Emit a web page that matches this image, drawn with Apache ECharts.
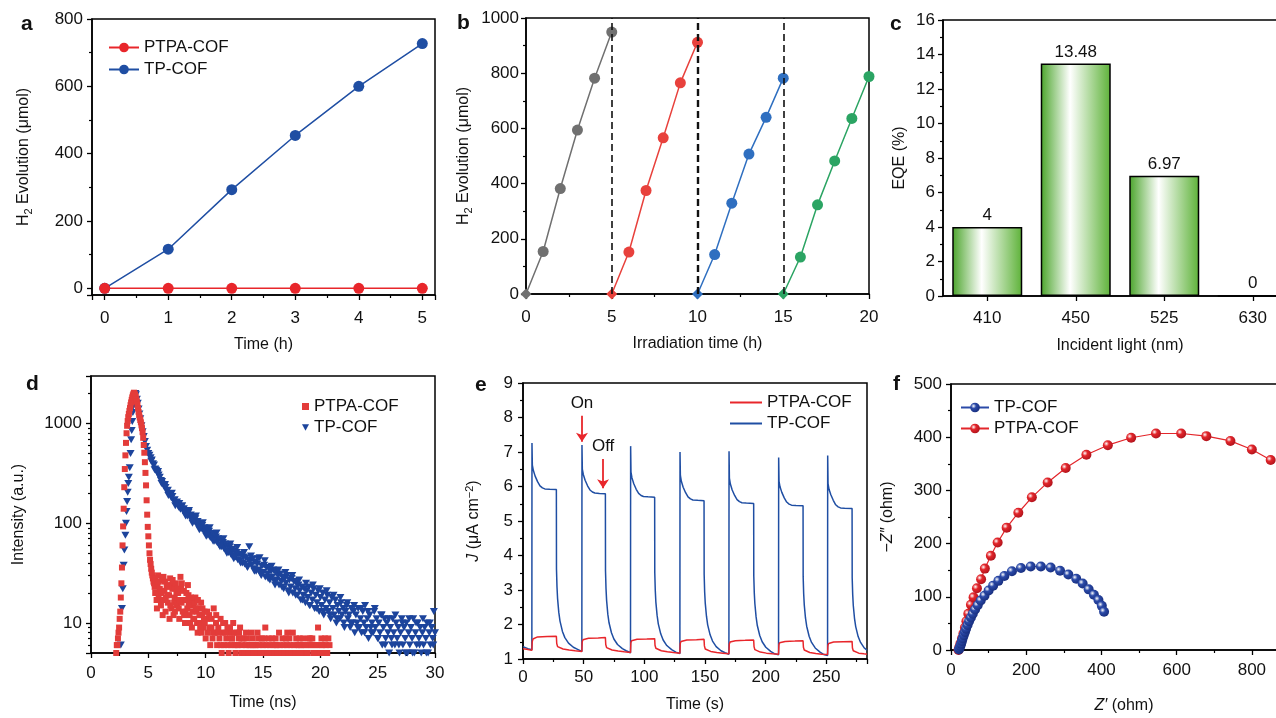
<!DOCTYPE html>
<html>
<head>
<meta charset="utf-8">
<script src="https://cdn.jsdelivr.net/npm/echarts@6/dist/echarts.min.js"></script>
<style>
html,body{margin:0;padding:0;background:#fff;}
#chart{width:1276px;height:718px;}
</style>
</head>
<body>
<div id="chart"></div>
<script>
// ---------- data ----------
// panel a
const aTime = [0, 1, 2, 3, 4, 5];
const aPTPA = [0, 0, 0, 0, 0, 0];
const aTP = [0, 116, 293, 454, 600, 727];
// panel b (four cycles)
const bRun1Time = [0, 1, 2, 3, 4, 5];
const bRun1 = [0, 154, 382, 594, 782, 949];
const bRun2Time = [5, 6, 7, 8, 9, 10];
const bRun2 = [0, 152, 375, 566, 765, 912];
const bRun3Time = [10, 11, 12, 13, 14, 15];
const bRun3 = [0, 143, 329, 507, 640, 782];
const bRun4Time = [15, 16, 17, 18, 19, 20];
const bRun4 = [0, 134, 323, 482, 636, 788];
const bCycleEnds = [5, 10, 15];
// panel c
const cWavelength = ['410', '450', '525', '630'];
const cEQE = [4, 13.48, 6.97, 0];
// panel d  [time (ns), counts]
const dPTPA = [
[2.2,5],[2.25,6],[2.3,6],[2.35,7],[2.4,8],[2.45,9],[2.5,11],[2.55,13],[2.6,18],[2.65,25],
[2.7,36],[2.75,60],[2.8,93],[2.85,140],[2.9,230],[2.95,350],[3.0,480],[3.05,640],[3.1,800],[3.15,950],
[3.2,1060],[3.25,1160],[3.3,1250],[3.35,1340],[3.4,1430],[3.45,1530],[3.5,1630],[3.55,1730],[3.6,1830],[3.65,1920],
[3.7,1990],[3.75,2040],[3.8,2000],[3.85,1940],[3.9,1860],[3.95,1760],[4.0,1660],[4.05,1550],[4.1,1430],[4.15,1310],
[4.2,1220],[4.25,1150],[4.3,1090],[4.35,1030],[4.4,970],[4.45,900],[4.5,820],[4.55,720],[4.6,610],[4.65,510],
[4.7,410],[4.75,320],[4.8,240],[4.85,170],[4.9,122],[4.95,92],[5.0,74],[5.05,60],[5.1,50],[5.15,43],
[5.2,39],[5.25,35],[5.3,32],[5.35,30],[5.4,28],[5.45,26],[5.5,25],[5.55,23],[5.6,20],[5.65,24],
[5.7,20],[5.75,14],[5.8,25],[5.85,30],[5.9,18],[6.0,22],[6.05,17],[6.1,15],[6.2,27],[6.25,12],
[6.3,17],[6.4,21],[6.45,26],[6.5,13],[6.6,24],[6.65,19],[6.7,16],[6.8,19],[6.85,11],[6.9,28],
[7.0,14],[7.05,24],[7.1,22],[7.2,12],[7.25,16],[7.3,18],[7.4,25],[7.45,20],[7.5,15],[7.6,20],
[7.65,14],[7.7,11],[7.8,29],[7.85,22],[7.9,16],[8.0,13],[8.05,17],[8.1,21],[8.2,10],[8.25,13],
[8.3,17],[8.4,14],[8.45,24],[8.5,19],[8.6,12],[8.65,10],[8.7,16],[8.8,9],[8.85,13],[8.9,15],
[9.0,11],[9.05,16],[9.1,18],[9.2,13],[9.25,10],[9.3,8],[9.4,14],[9.45,12],[9.5,10],[9.6,16],
[9.65,8],[9.7,12],[9.8,9],[9.85,11],[9.9,13],[10.0,7],[10.1,11],[10.2,8],[10.3,12],[10.4,6],
[10.5,9],[10.6,7],[10.7,14],[10.8,8],[10.9,10],[11.0,6],[11.1,9],[11.2,7],[11.3,11],[11.4,5],
[11.5,8],[11.6,6],[11.7,10],[11.8,7],[11.9,9],[12.0,5],[12.1,8],[12.2,6],[12.3,7],[12.4,10],
[12.5,6],[12.6,5],[12.7,8],[12.8,6],[12.9,7],[13.0,9],[13.1,5],[13.2,6],[13.3,7],[13.4,5],
[13.5,6],[13.6,7],[13.7,5],[13.8,6],[13.9,6],[14.0,8],[14.1,7],[14.2,5],[14.3,6],[14.4,6],
[14.5,5],[14.6,7],[14.7,6],[14.8,5],[14.9,7],[15.0,6],[15.1,5],[15.2,9],[15.3,6],[15.4,5],
[15.5,7],[15.6,6],[15.7,5],[15.8,7],[15.9,6],[16.0,5],[16.1,7],[16.2,6],[16.3,5],[16.4,8],
[16.5,6],[16.6,5],[16.7,7],[16.8,6],[16.9,5],[17.0,7],[17.1,6],[17.2,5],[17.3,7],[17.4,6],
[17.5,5],[17.6,8],[17.7,6],[17.8,5],[17.9,7],[18.0,6],[18.1,5],[18.2,7],[18.3,6],[18.4,5],
[18.5,7],[18.6,6],[18.7,6],[18.8,5],[18.9,5],[19.0,7],[19.1,6],[19.2,6],[19.3,7],[19.4,5],
[19.5,5],[19.6,6],[19.7,6],[19.8,9],[19.9,5],[20.0,5],[20.1,7],[20.2,6],[20.3,5],[20.4,7],
[20.5,6],[20.6,5],[20.7,7],[20.8,6],
[5.62,28],[5.72,17],[5.92,26],[6.12,20],[6.32,29],[6.52,18],[6.72,23],[6.92,15],[7.12,27],[7.32,13],
[7.52,22],[7.72,17],[7.92,25],[8.12,12],[8.32,20],[8.52,15],[8.72,18],[8.92,11],[9.12,14],[9.32,17],
[9.52,9],[9.72,14],[9.92,10],[10.12,13],[10.32,9],[10.52,11],[10.72,8],[10.92,12],[11.12,8],[11.32,6],
[11.52,10],[11.72,8],[11.92,6],[12.12,9],[12.32,7],[12.52,8],[12.72,6],[12.92,8],[13.12,7],[13.52,8],
[14.12,6],[14.52,8],[15.12,7],[16.12,6],[17.12,8],[18.12,6],[19.12,7],[20.12,6]
];
const dTP = [
[2.6,6],[2.7,14],[2.77,22],[2.85,38],[2.91,54],[3.0,76],[3.05,100],[3.1,131],[3.15,165],[3.2,205],
[3.25,250],[3.3,290],[3.38,360],[3.45,500],[3.5,690],[3.55,850],[3.6,1050],[3.65,1290],[3.7,1500],[3.75,1700],
[3.8,1870],[3.87,2000],[3.92,1950],[4.0,1750],[4.08,1600],[4.15,1400],[4.22,1250],[4.3,1120],[4.4,950],[4.5,830],
[4.6,740],[4.7,660],[4.8,590],[4.9,540],[5.0,500],
[5.1,480],[5.2,455],[5.3,430],[5.4,395],[5.5,385],[5.6,350],[5.7,340],[5.8,315],[5.9,305],[6.0,290],
[6.1,268],[6.2,262],[6.3,240],[6.4,236],[6.5,228],[6.6,210],[6.7,214],[6.8,195],[6.9,198],[7.0,180],
[7.1,186],[7.2,168],[7.3,172],[7.4,155],[7.5,163],[7.6,150],[7.7,158],[7.8,138],[7.9,146],[8.0,135],
[8.1,140],[8.2,124],[8.3,132],[8.4,118],[8.5,128],[8.6,116],[8.7,121],[8.8,108],[8.9,114],[9.0,104],
[9.1,111],[9.2,98],[9.3,104],[9.4,92],[9.5,99],[9.6,88],[9.7,95],[9.8,84],[9.9,90],[10.0,80],
[10.1,88],[10.2,76],[10.3,83],[10.4,72],[10.5,79],[10.6,70],[10.7,76],[10.8,66],[10.9,73],[11.0,64],
[11.1,70],[11.2,60],[11.3,67],[11.4,58],[11.5,64],[11.6,56],[11.7,62],[11.8,53],[11.9,59],[12.0,51],
[12.1,58],[12.2,49],[12.3,55],[12.4,47],[12.5,53],[12.6,46],[12.7,51],[12.8,43],[12.9,49],[13.0,42],
[13.1,48],[13.2,40],[13.3,46],[13.4,39],[13.5,45],[13.6,37],[13.7,43],[13.8,58],[13.9,42],[14.0,38],
[14.1,44],[14.2,35],[14.3,41],[14.4,33],[14.5,39],[14.6,34],[14.7,45],[14.8,31],[14.9,37],[15.0,32],
[15.1,38],[15.2,29],[15.3,36],[15.4,31],[15.5,35],[15.6,27],[15.7,33],[15.8,29],[15.9,34],[16.0,26],
[16.1,32],[16.2,27],[16.3,30],[16.4,24],[16.5,31],[16.6,26],[16.7,29],[16.8,22],[16.9,28],[17.0,25],
[17.1,30],[17.2,21],[17.3,27],[17.4,23],[17.5,28],[17.6,20],[17.7,26],[17.8,22],[17.9,25],[18.0,19],
[18.1,24],[18.2,21],[18.3,17],[18.4,23],[18.5,19],[18.6,22],[18.7,16],[18.8,21],[18.9,18],[19.0,23],
[19.1,15],[19.2,20],[19.3,17],[19.4,22],[19.5,14],[19.6,19],[19.7,16],[19.8,21],[19.9,13],[20.0,18],
[20.1,15],[20.2,20],[20.3,12],[20.4,17],[20.5,14],[20.6,19],[20.7,13],[20.8,16],[20.9,11],[21.0,18],
[21.1,14],[21.2,12],[21.3,17],[21.4,10],[21.5,15],[21.6,13],[21.7,11],[21.8,16],[21.9,12],[22.0,14],
[22.1,9],[22.2,13],[22.3,15],[22.4,11],[22.5,12],[22.6,9],[22.7,14],[22.8,10],[22.9,13],[23.0,8],
[23.1,12],[23.2,10],[23.3,14],[23.4,9],[23.5,11],[23.6,8],[23.7,13],[23.8,10],[23.9,15],[24.0,9],
[24.1,11],[24.2,7],[24.3,12],[24.4,9],[24.5,10],[24.6,8],[24.7,13],[24.8,9],[24.9,11],[25.0,7],
[25.1,10],[25.2,8],[25.3,12],[25.4,6],[25.5,9],[25.6,11],[25.7,7],[25.8,10],[25.9,8],[26.0,5],
[26.1,9],[26.2,7],[26.3,11],[26.4,8],[26.5,6],[26.6,10],[26.7,7],[26.8,9],[26.9,5],[27.0,8],
[27.1,11],[27.2,6],[27.3,9],[27.4,7],[27.5,10],[27.6,5],[27.7,8],[27.8,6],[27.9,9],[28.0,7],
[28.1,11],[28.2,5],[28.3,8],[28.4,6],[28.5,10],[28.6,7],[28.7,9],[28.8,5],[28.9,8],[29.0,6],
[29.1,9],[29.2,7],[29.3,10],[29.4,5],[29.5,8],[29.6,6],[29.7,9],[29.8,7],[29.9,13],[30.0,8],
[5.25,420],[5.55,345],[5.85,330],[6.15,250],[6.45,245],[6.75,190],[7.05,200],[7.35,150],[7.65,145],[7.95,150],
[8.25,118],[8.55,134],[8.85,100],[9.15,118],[9.45,86],[9.75,101],[10.05,74],[10.35,90],[10.65,66],[10.95,80],
[11.25,58],[11.55,70],[11.85,50],[12.15,62],[12.45,44],[12.75,57],[13.05,40],[13.35,51],[13.65,36],[13.95,47],
[14.25,33],[14.55,44],[14.85,30],[15.15,42],[15.45,28],[15.75,37],[16.05,24],[16.35,34],[16.65,23],[16.95,32],
[17.25,20],[17.55,30],[17.85,19],[18.15,27],[18.45,17],[18.75,25],[19.05,15],[19.35,24],[19.65,14],[19.95,22],
[20.25,13],[20.55,21],[20.85,12],[21.15,19],[21.45,11],[21.75,18],[22.05,10],[22.35,16],[22.65,10],[22.95,15],
[23.25,9],[23.55,14],[23.85,8],[24.15,13],[24.45,8],[24.75,14],[25.05,7],[25.35,12],[25.65,6],[25.95,11],
[26.25,6],[26.55,12],[26.85,6],[27.15,10],[27.45,5],[27.75,11],[28.05,5],[28.35,10],[28.65,6],[28.95,11],
[29.25,5],[29.55,10],[29.85,6]
];
// panel e  [time (s), J]
const ePTPA = [
[0,1.3],[3,1.28],[7.3,1.25],[7.6,1.5],[8.2,1.58],[9.5,1.62],[12,1.64],[20,1.65],[27.5,1.66],[27.8,1.45],[28.5,1.36],[30,1.32],[33,1.29],[38,1.26],[43,1.24],[48.5,1.22],
[48.8,1.5],[49.4,1.56],[50.7,1.59],[54,1.6],[62,1.61],[67.9,1.62],[68.2,1.42],[68.9,1.33],[70.4,1.29],[73.4,1.26],[78.4,1.23],[83.4,1.21],[88.6,1.19],
[88.9,1.47],[89.5,1.53],[90.8,1.56],[94,1.57],[102,1.58],[108.5,1.59],[108.8,1.4],[109.5,1.31],[111,1.27],[114,1.24],[119,1.21],[124,1.19],[129.3,1.17],
[129.6,1.45],[130.2,1.51],[131.5,1.54],[135,1.55],[143,1.56],[149.2,1.57],[149.5,1.38],[150.2,1.29],[151.7,1.25],[154.7,1.22],[159.7,1.19],[164.7,1.17],[169.7,1.15],
[170,1.43],[170.6,1.49],[171.9,1.52],[175,1.53],[183,1.54],[190.1,1.55],[190.4,1.36],[191.1,1.27],[192.6,1.23],[195.6,1.2],[200.6,1.17],[205.6,1.15],[210.6,1.14],
[210.9,1.41],[211.5,1.47],[212.8,1.5],[216,1.51],[224,1.52],[230.8,1.53],[231.1,1.34],[231.8,1.26],[233.3,1.22],[236.3,1.19],[241.3,1.16],[246.3,1.14],[251,1.13],
[251.3,1.39],[251.9,1.45],[253.2,1.48],[256,1.49],[264,1.5],[271.2,1.51],[271.5,1.32],[272.2,1.24],[273.7,1.2],[276.7,1.17],[281,1.15],[283.5,1.14]
];
const eTP = [
[0,1.36],[2,1.33],[4,1.3],[7.3,1.27],
[7.4,7.26],[7.7,6.62],[8.5,6.47],[10,6.3],[12,6.14],[14,6.02],[16,5.96],[18,5.93],[22,5.92],[27.5,5.91],
[27.6,3.6],[28,3.1],[28.5,2.75],[29.5,2.35],[30.5,2.1],[32.5,1.8],[34.5,1.62],[37.5,1.46],[41.5,1.34],[45,1.28],[48.5,1.22],
[48.6,7.2],[48.9,6.5],[49.7,6.35],[51.2,6.18],[53.2,6.02],[55.2,5.9],[57.2,5.84],[59.2,5.81],[63,5.8],[67.9,5.79],
[68,3.55],[68.4,3.05],[68.9,2.7],[69.9,2.3],[70.9,2.05],[72.9,1.76],[74.9,1.58],[77.9,1.42],[81.9,1.3],[85,1.24],[88.6,1.18],
[88.7,7.17],[89,6.42],[89.8,6.25],[91.3,6.08],[93.3,5.92],[95.3,5.8],[97.3,5.74],[99.3,5.71],[103,5.7],[108.5,5.69],
[108.6,3.5],[109,3.0],[109.5,2.65],[110.5,2.27],[111.5,2.02],[113.5,1.73],[115.5,1.55],[118.5,1.39],[122.5,1.27],[126,1.2],[129.3,1.16],
[129.4,7.0],[129.7,6.32],[130.5,6.15],[132,5.98],[134,5.82],[136,5.7],[138,5.64],[140,5.61],[144,5.6],[149.2,5.59],
[149.3,3.45],[149.7,2.95],[150.2,2.62],[151.2,2.24],[152.2,1.99],[154.2,1.7],[156.2,1.52],[159.2,1.36],[163.2,1.24],[166.5,1.18],[169.7,1.14],
[169.8,7.02],[170.1,6.24],[170.9,6.07],[172.4,5.9],[174.4,5.74],[176.4,5.62],[178.4,5.56],[180.4,5.53],[184,5.52],[190.1,5.51],
[190.2,3.4],[190.6,2.92],[191.1,2.6],[192.1,2.22],[193.1,1.97],[195.1,1.68],[197.1,1.5],[200.1,1.34],[204.1,1.22],[207.5,1.15],[210.6,1.12],
[210.7,6.84],[211,6.15],[211.8,5.99],[213.3,5.83],[215.3,5.67],[217.3,5.55],[219.3,5.49],[221.3,5.46],[225,5.45],[230.8,5.44],
[230.9,3.38],[231.3,2.9],[231.8,2.57],[232.8,2.19],[233.8,1.95],[235.8,1.66],[237.8,1.48],[240.8,1.32],[244.8,1.2],[248,1.13],[251,1.1],
[251.1,6.9],[251.4,6.08],[252.2,5.92],[253.7,5.76],[255.7,5.6],[257.7,5.47],[259.7,5.41],[261.7,5.38],[265,5.37],[271.2,5.36],
[271.3,3.35],[271.7,2.88],[272.2,2.55],[273.2,2.18],[274.2,1.94],[276.2,1.65],[278.2,1.48],[281.2,1.32],[283.5,1.26]
];
const eOnArrow = [[48.6, 8.05], [48.6, 7.3]];
const eOffArrow = [[66, 6.8], [66, 5.95]];
// panel f  [Z', -Z'']
const fTP = [
[21,1],[23,4],[25,8],[27,12],[29,17],[31,22],[34,28],[37,34],[40,40],[44,47],
[48,54],[53,61],[58,68],[64,76],[71,84],[79,93],[89,102],[100,112],[112,121],[126,130],
[142,139],[162,148],[186,154],[212,157],[239,157],[265,155],[290,149],[312,142],[333,134],[350,125],
[366,114],[380,104],[392,94],[401,83],[407,72]
];
const fPTPA = [
[20,0],[22,5],[25,12],[29,21],[33,31],[37,42],[41,54],[46,68],[53,85],[60,99],
[69,116],[80,133],[90,153],[106,177],[124,202],[148,230],[179,258],[215,287],[257,315],[305,342],
[360,367],[417,385],[479,399],[545,407],[612,407],[679,402],[743,393],[800,377],[850,357]
];

// ---------- styling ----------
const FONT = 'Liberation Sans, Arial, Helvetica, sans-serif';
const RED = '#e8262b', BLUE = '#1f4ea3';
const bColors = ['#707070', '#e8413c', '#2f6fc0', '#2ba463'];

function ball(c, dark) {
  return {type: 'radial', x: 0.35, y: 0.35, r: 0.75,
    colorStops: [{offset: 0, color: '#ffffff'}, {offset: 0.35, color: c}, {offset: 1, color: dark}]};
}

const gridPos = [
  {left: 92, top: 19, width: 343, height: 276},
  {left: 526, top: 18, width: 343, height: 276},
  {left: 943, top: 20, width: 354, height: 276},
  {left: 91, top: 376, width: 344, height: 277},
  {left: 523, top: 383, width: 344, height: 276},
  {left: 951, top: 384, width: 346, height: 266}
];
const grids = gridPos.map(g => Object.assign({
  show: true, borderColor: '#000', borderWidth: 1.5, backgroundColor: 'transparent',
  containLabel: false, outerBoundsMode: 'none'
}, g));

function axisBase(extra) {
  const base = {
    axisLine: {show: true, onZero: false, lineStyle: {color: '#000', width: 1.5}},
    axisTick: {show: true, inside: false, length: 5, lineStyle: {color: '#000', width: 1.3}},
    minorTick: {show: true, splitNumber: 2, length: 3, lineStyle: {color: '#000', width: 1.2}},
    splitLine: {show: false},
    minorSplitLine: {show: false},
    axisLabel: {color: '#111', fontSize: 17, fontFamily: FONT},
    nameLocation: 'middle',
    nameTextStyle: {color: '#111', fontSize: 16, fontFamily: FONT},
    silent: true
  };
  const out = Object.assign({}, base, extra);
  if (extra.axisLabel) out.axisLabel = Object.assign({}, base.axisLabel, extra.axisLabel);
  if (extra.nameTextStyle) out.nameTextStyle = Object.assign({}, base.nameTextStyle, extra.nameTextStyle);
  if (extra.minorTick) out.minorTick = Object.assign({}, base.minorTick, extra.minorTick);
  if (extra.axisTick) out.axisTick = Object.assign({}, base.axisTick, extra.axisTick);
  return out;
}
const keepMultiple = (step) => (v) => (v >= 0 && Math.abs(v / step - Math.round(v / step)) < 1e-6) ? String(Math.round(v * 100) / 100) : '';

const subRich = {
  n: {fontSize: 16, fontFamily: FONT, color: '#111', lineHeight: 20},
  s: {fontSize: 11, fontFamily: FONT, color: '#111', padding: [9, 0, 0, 0], lineHeight: 11, verticalAlign: 'bottom'},
  p: {fontSize: 11, fontFamily: FONT, color: '#111', padding: [0, 0, 8, 0], lineHeight: 11, verticalAlign: 'top'},
  i: {fontSize: 16, fontFamily: FONT, color: '#111', fontStyle: 'italic', lineHeight: 20}
};

const xAxes = [
  axisBase({type: 'value', gridIndex: 0, min: -0.2, max: 5.2, name: 'Time (h)', nameGap: 42,
    axisLabel: {margin: 15, formatter: keepMultiple(1)}}),
  axisBase({type: 'value', gridIndex: 1, min: 0, max: 20, interval: 5, name: 'Irradiation time (h)', nameGap: 42,
    axisLabel: {margin: 15}}),
  axisBase({type: 'category', gridIndex: 2, data: cWavelength, name: 'Incident light (nm)', nameGap: 42,
    axisTick: {alignWithLabel: true}, minorTick: {show: false}, axisLabel: {margin: 14}}),
  axisBase({type: 'value', gridIndex: 3, min: 0, max: 30, interval: 5, name: 'Time (ns)', nameGap: 42,
    axisLabel: {margin: 12}}),
  axisBase({type: 'value', gridIndex: 4, min: 0, max: 283.5, interval: 50, name: 'Time (s)', nameGap: 38,
    axisLabel: {margin: 10, formatter: keepMultiple(50)}}),
  axisBase({type: 'value', gridIndex: 5, min: 0, max: 920, interval: 200, name: '{i|Z′}{n| (ohm)}', nameGap: 46,
    nameTextStyle: {rich: subRich}, axisLabel: {margin: 12, formatter: keepMultiple(200)}})
];
const yAxes = [
  axisBase({type: 'value', gridIndex: 0, min: -20, max: 800, name: '{n|H}{s|2}{n| Evolution (μmol)}', nameGap: 58,
    nameTextStyle: {rich: subRich}, axisLabel: {margin: 9, formatter: keepMultiple(200)}}),
  axisBase({type: 'value', gridIndex: 1, min: 0, max: 1000, interval: 200, name: '{n|H}{s|2}{n| Evolution (μmol)}', nameGap: 52,
    nameTextStyle: {rich: subRich}, axisLabel: {margin: 7, formatter: (v) => String(v)}}),
  axisBase({type: 'value', gridIndex: 2, min: 0, max: 16, interval: 2, name: 'EQE (%)', nameGap: 35,
    axisLabel: {margin: 8}}),
  axisBase({type: 'log', logBase: 10, gridIndex: 3, min: 5, max: 3000, name: 'Intensity (a.u.)', nameGap: 64,
    minorTick: {show: true, splitNumber: 9},
    axisLabel: {margin: 9, formatter: (v) => { const r = Math.round(v); return (r === 10 || r === 100 || r === 1000) ? String(r) : ''; }}}),
  axisBase({type: 'value', gridIndex: 4, min: 1, max: 9, interval: 1, name: '{i|J}{n| (μA cm}{p|−2}{n|)}', nameGap: 39,
    nameTextStyle: {rich: subRich}, axisLabel: {margin: 10}}),
  axisBase({type: 'value', gridIndex: 5, min: 0, max: 500, interval: 100, name: '{n|−}{i|Z″}{n| (ohm)}', nameGap: 53,
    nameTextStyle: {rich: subRich}, axisLabel: {margin: 9}})
];

const zip = (xs, ys) => xs.map((x, i) => [x, ys[i]]);
const bRuns = [[bRun1Time, bRun1], [bRun2Time, bRun2], [bRun3Time, bRun3], [bRun4Time, bRun4]];

const series = [];
// a
series.push({name: 'a|TP-COF', type: 'line', xAxisIndex: 0, yAxisIndex: 0, data: zip(aTime, aTP),
  symbol: 'circle', symbolSize: 11, itemStyle: {color: BLUE}, lineStyle: {color: BLUE, width: 1.5}, clip: false});
series.push({name: 'a|PTPA-COF', type: 'line', xAxisIndex: 0, yAxisIndex: 0, data: zip(aTime, aPTPA),
  symbol: 'circle', symbolSize: 11, itemStyle: {color: RED}, lineStyle: {color: RED, width: 1.5}, clip: false});
// b
bRuns.forEach((run, k) => {
  const pts = zip(run[0], run[1]).map((p, i) => i === 0 ? {value: p, symbol: 'diamond', symbolSize: 11} : {value: p});
  series.push({name: 'b|run' + (k + 1), type: 'line', xAxisIndex: 1, yAxisIndex: 1, data: pts,
    symbol: 'circle', symbolSize: 11, itemStyle: {color: bColors[k]}, lineStyle: {color: bColors[k], width: 1.5}, clip: false, z: 3});
});
series.push({name: 'b|ends', type: 'line', xAxisIndex: 1, yAxisIndex: 1, data: [], z: 2,
  markLine: {silent: true, symbol: ['none', 'none'], label: {show: false}, animation: false,
    data: bCycleEnds.map((x, i) => ({xAxis: x, lineStyle: {color: '#111', type: [7, 4], width: i === 1 ? 2.4 : 1.6}}))}});
// c
series.push({name: 'c|EQE', type: 'bar', xAxisIndex: 2, yAxisIndex: 2, data: cEQE, barWidth: 70,
  itemStyle: {
    color: {type: 'linear', x: 0, y: 0, x2: 1, y2: 0,
      colorStops: [{offset: 0, color: '#4aa42a'}, {offset: 0.42, color: '#ffffff'}, {offset: 1, color: '#5db238'}]},
    borderColor: '#000', borderWidth: 1.5},
  label: {show: true, position: 'top', distance: 3, color: '#111', fontSize: 17, fontFamily: FONT}});
// d
const triDown = 'path://M0,0 L10,0 L5,9 Z';
series.push({name: 'd|TP-COF', type: 'scatter', xAxisIndex: 3, yAxisIndex: 3, data: dTP,
  symbol: triDown, symbolSize: [8, 7], itemStyle: {color: '#1c449c', opacity: 1}, clip: true});
series.push({name: 'd|PTPA-COF', type: 'scatter', xAxisIndex: 3, yAxisIndex: 3, data: dPTPA,
  symbol: 'rect', symbolSize: 6, itemStyle: {color: '#e33c3a', opacity: 1}, clip: true});
// e
series.push({name: 'e|TP-COF', type: 'line', xAxisIndex: 4, yAxisIndex: 4, data: eTP, showSymbol: false, symbol: 'none',
  lineStyle: {color: '#1f4ea3', width: 1.5}, itemStyle: {color: '#1f4ea3'},
  markLine: {silent: true, animation: false, symbol: ['none', 'arrow'], symbolSize: 9,
    lineStyle: {color: '#e8262b', width: 1.8, type: 'solid'},
    label: {show: true, position: 'start', distance: 4, color: '#111', fontSize: 17, fontFamily: FONT},
    data: [
      [{coord: eOnArrow[0], label: {formatter: 'On'}}, {coord: eOnArrow[1]}],
      [{coord: eOffArrow[0], label: {formatter: 'Off'}}, {coord: eOffArrow[1]}]
    ]}});
series.push({name: 'e|PTPA-COF', type: 'line', xAxisIndex: 4, yAxisIndex: 4, data: ePTPA, showSymbol: false, symbol: 'none',
  lineStyle: {color: RED, width: 1.5}, itemStyle: {color: RED}});
// f
series.push({name: 'f|PTPA-COF', type: 'line', xAxisIndex: 5, yAxisIndex: 5, data: fPTPA,
  symbol: 'circle', symbolSize: 10, itemStyle: {color: ball('#e3262b', '#a8101a')}, lineStyle: {color: '#e3262b', width: 1.2}, clip: false});
series.push({name: 'f|TP-COF', type: 'line', xAxisIndex: 5, yAxisIndex: 5, data: fTP,
  symbol: 'circle', symbolSize: 10, itemStyle: {color: ball('#2b4aa8', '#152a78')}, lineStyle: {color: '#2b4aa8', width: 1.2}, clip: false});

const legendText = {color: '#111', fontSize: 17, fontFamily: FONT};
const stripName = (n) => n.split('|')[1];
const legends = [
  {data: ['a|PTPA-COF', 'a|TP-COF'], left: 108, top: 39, orient: 'vertical', itemWidth: 30, itemHeight: 12, itemGap: 5},
  {data: [{name: 'd|PTPA-COF', icon: 'rect'}, {name: 'd|TP-COF', icon: triDown}], left: 302, top: 398, orient: 'vertical', itemWidth: 7, itemHeight: 7, itemGap: 4},
  {data: [{name: 'e|PTPA-COF', icon: 'rect'}, {name: 'e|TP-COF', icon: 'rect'}], left: 730, top: 394, orient: 'vertical', itemWidth: 32, itemHeight: 2, itemGap: 4},
  {data: ['f|TP-COF', 'f|PTPA-COF'], left: 960, top: 399, orient: 'vertical', itemWidth: 28, itemHeight: 12, itemGap: 4}
].map(l => Object.assign({formatter: stripName, textStyle: legendText, selectedMode: false, padding: 0}, l));

const letters = [['a', 27, 25], ['b', 463, 24], ['c', 896, 25], ['d', 32, 385], ['e', 481, 386], ['f', 899, 385]];

const option = {
  animation: false,
  backgroundColor: '#fff',
  textStyle: {fontFamily: FONT},
  grid: grids,
  xAxis: xAxes,
  yAxis: yAxes,
  legend: legends,
  series: series,
  graphic: letters.map(l => ({type: 'text', left: l[1] - 6, top: l[2] - 11, z: 10,
    style: {text: l[0], font: 'bold 21px ' + FONT, fill: '#111'}}))
};

const chart = echarts.init(document.getElementById('chart'), null, {renderer: 'canvas'});
chart.setOption(option);
</script>
</body>
</html>
